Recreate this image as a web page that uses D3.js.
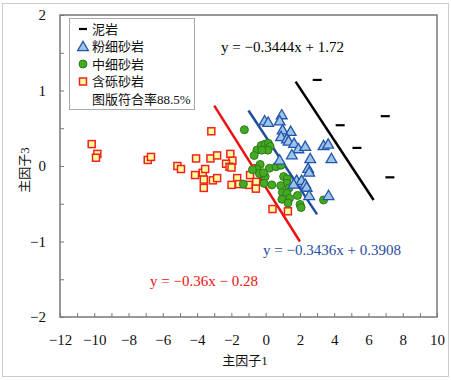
<!DOCTYPE html>
<html>
<head>
<meta charset="utf-8">
<script src="https://cdn.jsdelivr.net/npm/d3@7"></script>
<style>
  body { margin: 0; background: #fff; }
  text { font-family: "Liberation Serif", "Noto Sans CJK SC", serif; }
</style>
</head>
<body>
<div id="chart"></div>
<script>
// 泥岩
const mudX = [3.01, 4.35, 6.98, 5.33, 7.25];
const mudY = [1.14, 0.54, 0.66, 0.24, -0.15];
// 粉细砂岩
const siltX = [-0.06, 0.15, 0.94, 0.82, 0.99, 1.46, 0.90, 1.24, 1.34, 1.66, 1.91, 2.31, 3.38, 3.65,
  1.53, 2.60, 3.84, 0.82, 2.48, 2.54, 1.81, 2.10, 1.63, 2.31, 2.39, 2.54, 3.67];
const siltY = [0.60, 0.58, 0.68, 0.60, 0.48, 0.46, 0.39, 0.36, 0.33, 0.30, 0.23, 0.26, 0.27, 0.29,
  0.15, 0.10, 0.10, 0.08, -0.03, -0.08, -0.19, -0.19, -0.24, -0.24, -0.28, -0.39, -0.39];
// 中细砂岩
const midX = [-1.24, -0.51, -0.26, -0.03, 0.16, 0.26, 0.13, -0.22, -0.67, -0.32, 0.22, 0.61, 0.90,
  -0.51, -0.36, -0.03, -0.77, 1.05, 1.26, 1.24, -0.09, 0.36, 0.88, 1.37, 0.98, 1.24, 0.95, 1.39,
  1.86, 1.30, 2.01, 2.07, -1.30, 3.38, -0.13];
const midY = [0.48, 0.21, 0.27, 0.29, 0.30, 0.26, 0.21, 0.21, 0.14, 0.02, -0.03, -0.01, 0.01,
  -0.04, -0.10, -0.14, -0.05, -0.14, -0.17, -0.23, -0.23, -0.25, -0.26, -0.29, -0.35, -0.36, -0.44, -0.43,
  -0.39, -0.49, -0.51, -0.55, -0.24, -0.45, -0.09];
// 含砾砂岩
const gravX = [-10.15, -9.82, -9.90, -6.88, -6.69, -5.15, -4.94, -3.17, -4.06, -4.12, -3.67, -3.53,
  -3.61, -3.61, -3.22, -2.83, -3.08, -2.83, -2.06, -1.94, -2.31, -2.11, -1.99, -1.66, -1.99, -1.55,
  -0.99, -0.91, -0.57, -0.55, -0.57, 0.40, 1.30];
const gravY = [0.29, 0.16, 0.11, 0.08, 0.12, 0.00, -0.04, 0.46, 0.10, -0.12, -0.09, -0.04,
  -0.18, -0.29, 0.10, 0.14, -0.19, -0.16, 0.16, 0.07, 0.03, -0.01, -0.02, -0.16, -0.25, -0.24,
  -0.25, -0.12, -0.03, -0.21, -0.30, -0.57, -0.60];

// 分界线 y = a x + b
const lineNames = ["black", "blue", "red"];
const lineSlope = [-0.3444, -0.3436, -0.36];
const lineIcpt = [1.72, 0.3908, -0.28];
const lineFrom = [1.75, -1, -3];
const lineTo = [6.3, 3, 2];
const lineLabels = ["y = −0.3444x + 1.72", "y = −0.3436x + 0.3908", "y = −0.36x − 0.28"];
const lineColors = ["#000000", "#1f4e9f", "#ee1111"];

const legendNames = ["泥岩", "粉细砂岩", "中细砂岩", "含砾砂岩", "图版符合率88.5%"];
const xTicks = d3.range(-12, 11, 1);
const yTicks = d3.range(-2, 2.01, 0.5);

const width = 451, height = 380;
const margin = { left: 60, right: 14, top: 15, bottom: 63 };

const svg = d3.select("#chart").append("svg")
  .attr("width", width)
  .attr("height", height);

svg.append("rect")
  .attr("x", 2.5).attr("y", 3.5)
  .attr("width", 446).attr("height", 373)
  .attr("fill", "white").attr("stroke", "#cccccc");

const x = d3.scaleLinear().domain([-12, 10]).range([margin.left, width - margin.right]);
const y = d3.scaleLinear().domain([-2, 2]).range([height - margin.bottom, margin.top]);

const fmt = v => (v < 0 ? "−" + Math.abs(v) : "" + v);

const xAxis = svg.append("g")
  .attr("transform", "translate(0," + y(-2) + ")")
  .call(d3.axisBottom(x).tickValues(xTicks).tickSizeInner(-4).tickSizeOuter(0).tickPadding(17)
    .tickFormat(d => (d % 2 === 0 ? fmt(d) : "")));
const yAxis = svg.append("g")
  .attr("transform", "translate(" + x(-12) + ",0)")
  .call(d3.axisLeft(y).tickValues(yTicks).tickSizeInner(-4).tickSizeOuter(0).tickPadding(14)
    .tickFormat(d => (Number.isInteger(d) ? fmt(d) : "")));
[xAxis, yAxis].forEach(a => {
  a.select(".domain").remove();
  a.selectAll(".tick line").attr("stroke", "#777");
  a.selectAll("text").attr("font-size", 15).attr("fill", "#111")
    .style("font-family", "'Liberation Serif', serif");
});

// 边框
svg.append("rect")
  .attr("x", x(-12)).attr("y", y(2))
  .attr("width", x(10) - x(-12)).attr("height", y(-2) - y(2))
  .attr("fill", "none").attr("stroke", "#777").attr("stroke-width", 1.5);

// 分界线
lineNames.forEach((n, i) => {
  svg.append("line")
    .attr("x1", x(lineFrom[i])).attr("y1", y(lineSlope[i] * lineFrom[i] + lineIcpt[i]))
    .attr("x2", x(lineTo[i])).attr("y2", y(lineSlope[i] * lineTo[i] + lineIcpt[i]))
    .attr("stroke", lineColors[i]).attr("stroke-width", 2.5);
});

const pts = (xs, ys) => xs.map((v, i) => [v, ys[i]]);

// 含砾砂岩
svg.append("g").selectAll("rect").data(pts(gravX, gravY)).join("rect")
  .attr("x", d => x(d[0]) - 3.5).attr("y", d => y(d[1]) - 3.5)
  .attr("width", 7).attr("height", 7)
  .attr("fill", "#ffff99").attr("stroke", "#ee2222").attr("stroke-width", 1.5);

// 中细砂岩
svg.append("g").selectAll("circle").data(pts(midX, midY)).join("circle")
  .attr("cx", d => x(d[0])).attr("cy", d => y(d[1])).attr("r", 4)
  .attr("fill", "#44aa22").attr("stroke", "#2d7a1a").attr("stroke-width", 1);

// 粉细砂岩
const tri = d3.symbol().type(d3.symbolTriangle).size(50);
svg.append("g").selectAll("path").data(pts(siltX, siltY)).join("path")
  .attr("d", tri)
  .attr("transform", d => "translate(" + x(d[0]) + "," + (y(d[1]) + 1) + ")")
  .attr("fill", "#9dc3e6").attr("stroke", "#2255aa").attr("stroke-width", 1.3);

// 泥岩
svg.append("g").selectAll("line").data(pts(mudX, mudY)).join("line")
  .attr("x1", d => x(d[0]) - 4.5).attr("x2", d => x(d[0]) + 4.5)
  .attr("y1", d => y(d[1])).attr("y2", d => y(d[1]))
  .attr("stroke", "#000").attr("stroke-width", 2.2);

// 方程
const eqPos = [[221, 52], [263, 255], [150, 286]];
lineLabels.forEach((t, i) => {
  svg.append("text")
    .attr("x", eqPos[i][0]).attr("y", eqPos[i][1])
    .attr("font-size", 15).attr("fill", lineColors[i])
    .text(t);
});

// 图例
const legend = svg.append("g");
legend.append("rect")
  .attr("x", 69.5).attr("y", 18.5).attr("width", 125).attr("height", 91)
  .attr("fill", "white").attr("stroke", "#aaaaaa");
const rowY = d3.scalePoint().domain(legendNames).range([29, 99]);
legendNames.forEach((n, i) => {
  legend.append("text")
    .attr("x", 92).attr("y", rowY(n) + 4.5)
    .attr("font-size", 13).attr("fill", "#111")
    .style("font-family", "'Liberation Serif', 'Noto Sans CJK SC', serif")
    .text(n);
});
const sx = 83;
legend.append("line")
  .attr("x1", sx - 4).attr("x2", sx + 4)
  .attr("y1", rowY(legendNames[0])).attr("y2", rowY(legendNames[0]))
  .attr("stroke", "#000").attr("stroke-width", 2.2);
legend.append("path").attr("d", tri)
  .attr("transform", "translate(" + sx + "," + (rowY(legendNames[1]) + 1) + ")")
  .attr("fill", "#9dc3e6").attr("stroke", "#2255aa").attr("stroke-width", 1.3);
legend.append("circle")
  .attr("cx", sx).attr("cy", rowY(legendNames[2])).attr("r", 4)
  .attr("fill", "#44aa22").attr("stroke", "#2d7a1a");
legend.append("rect")
  .attr("x", sx - 3.5).attr("y", rowY(legendNames[3]) - 3.5).attr("width", 7).attr("height", 7)
  .attr("fill", "#ffff99").attr("stroke", "#ee2222").attr("stroke-width", 1.5);

// 轴标题
svg.append("text")
  .attr("x", 245).attr("y", 365).attr("text-anchor", "middle")
  .attr("font-size", 13).attr("fill", "#111")
  .text("主因子1");
svg.append("text")
  .attr("transform", "translate(29,170) rotate(-90)")
  .attr("text-anchor", "middle")
  .attr("font-size", 13).attr("fill", "#111")
  .text("主因子3");
</script>
</body>
</html>
